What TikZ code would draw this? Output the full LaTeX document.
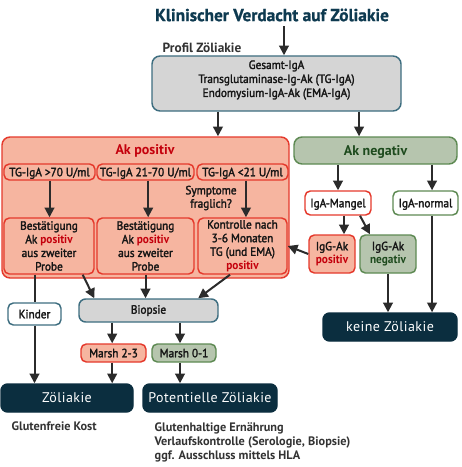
\documentclass[tikz,border=0pt]{standalone}
\usepackage{fontspec}
\setmainfont{PT Sans}[FakeStretch=0.94, UprightFeatures={FakeBold=2.2}]
\newfontfamily\plainpt{PT Sans}
\usetikzlibrary{fit,arrows.meta,calc}
\definecolor{navy}{HTML}{0B2E3F}
\definecolor{titlec}{HTML}{0E3A50}
\definecolor{tealb}{HTML}{3E6E80}
\definecolor{grayfill}{HTML}{D5D5D5}
\definecolor{salmon}{HTML}{F6B5A0}
\definecolor{redb}{HTML}{E5392C}
\definecolor{redt}{HTML}{C4000C}
\definecolor{greenfill}{HTML}{B6C5AE}
\definecolor{greenb}{HTML}{5E8A53}
\definecolor{greent}{HTML}{1D4A1D}
\definecolor{txt}{HTML}{161616}
\definecolor{notec}{HTML}{333333}
\definecolor{arrc}{HTML}{2B2B2B}
\newcommand{\rpos}{\textcolor{redt}{\bfseries positiv}}
\newcommand{\gneg}{\textcolor{greent}{\bfseries negativ}}
% one-line label centred on the box (by cap height)
\newcommand{\bt}[3][3.2pt]{\node[anchor=base, inner sep=0pt] (#2-l) at ([yshift=-#1]#2.center) {#3};}
\tikzset{
 every node/.style={font=\fontsize{9}{10.1}\selectfont, text=txt},
 base/.style={inner sep=0pt, align=center, line width=1.1pt},
 graybox/.style={base, draw=tealb, fill=grayfill, rounded corners=6pt},
 panel/.style={base, draw=redb, fill=salmon, rounded corners=6pt},
 redbox/.style={base, draw=redb, fill=salmon, rounded corners=4pt},
 greenbox/.style={base, draw=greenb, fill=greenfill, rounded corners=4pt},
 whitered/.style={base, draw=redb, fill=white, rounded corners=4pt},
 whitegreen/.style={base, draw=greenb, fill=white, rounded corners=4pt},
 whiteteal/.style={base, draw=tealb, fill=white, rounded corners=4pt},
 navybox/.style={base, fill=navy, draw=navy, rounded corners=5pt},
 arr/.style={draw=arrc, line width=1.5pt, -{Triangle[width=7.3pt,length=7.3pt]}},
 ln/.style={draw=arrc, line width=1.5pt},
 head/.style={font=\plainpt\bfseries\fontsize{10.5}{12}\selectfont},
 notes/.style={font=\plainpt\bfseries\fontsize{9.2}{10.5}\selectfont, text=notec, align=left},
}
\begin{document}
\begin{tikzpicture}[x=0.75pt,y=-0.75pt]
\fill[white] (0,0) rectangle (461,467);
\useasboundingbox (0,0) rectangle (461,467);

\node[font=\plainpt\bfseries\fontsize{13}{15}\selectfont\addfontfeature{FakeBold=1}, text=titlec] (title) at (272,15) {Klinischer Verdacht auf Zöliakie};
\node[anchor=west, font=\plainpt\bfseries\fontsize{10}{12}\selectfont, text=notec] (profil) at (158,48) {Profil Zöliakie};
\node[graybox, fit={(152,56)(401,111)}] (gray) {};
\node[align=center, font=\fontsize{9}{10.5}\selectfont] (graytxt) at (276.5,80) {Gesamt-IgA\\Transglutaminase-Ig-Ak (TG-IgA)\\Endomysium-IgA-Ak (EMA-IgA)};

% positive panel
\node[panel, fit={(2,137)(289,278)}] (pos) {};
\node[head, text=redt] (postitle) at (145,151) {Ak positiv};
\node[redbox, fit={(4,164)(95,180)}] (t1) {};
\node[redbox, fit={(97,164)(194,180)}] (t2) {};
\node[redbox, fit={(197,164)(288,180)}] (t3) {};
\bt{t1}{TG-IgA >70 U/ml}
\bt{t2}{TG-IgA 21-70 U/ml}
\bt{t3}{TG-IgA <21 U/ml}
\node[align=center, font=\fontsize{9}{10}\selectfont] (sympt) at (211,198) {Symptome\\fraglich?};
\node[redbox, fit={(4,218)(94,274)}] (b1) {};
\node[redbox, fit={(97,218)(194,274)}] (b2) {};
\node[redbox, fit={(198,218)(287,274)}] (b3) {};
\node[align=center, font=\fontsize{9}{10.2}\selectfont] (b1-l) at (b1.center) {Bestätigung\\Ak \rpos\\aus zweiter\\Probe};
\node[align=center, font=\fontsize{9}{10.2}\selectfont] (b2-l) at (b2.center) {Bestätigung\\Ak \rpos\\aus zweiter\\Probe};
\node[align=center, font=\fontsize{9}{10.2}\selectfont] (b3-l) at (b3.center) {Kontrolle nach\\3-6 Monaten\\TG (und EMA)\\\rpos};

% negative side
\node[greenbox, rounded corners=6pt, fit={(294,137)(457,164)}] (neg) {};
\bt[3.7pt]{neg}{\plainpt\bfseries\fontsize{10.5}{12}\selectfont\color{greent}Ak negativ}
\node[whitered, fit={(305,191)(371,215)}] (mangel) {};
\bt{mangel}{IgA-Mangel}
\node[whitegreen, fit={(393,191)(458,215)}] (normal) {};
\bt{normal}{IgA-normal}
\node[redbox, fit={(309,235)(355,273)}] (igpos) {};
\node[align=center] (igpos-l) at (igpos.center) {IgG-Ak\\\rpos};
\node[greenbox, fit={(360,235)(416,273)}] (igneg) {};
\node[align=center] (igneg-l) at (igneg.center) {IgG-Ak\\\gneg};
\node[navybox, fit={(323,313)(457,341)}] (keine) {};
\bt[3.7pt]{keine}{\color{white}\plainpt\fontsize{10.5}{12}\selectfont\addfontfeature{LetterSpace=3}keine Zöliakie}

% bottom
\node[whiteteal, fit={(8,303)(61,325)}] (kinder) {};
\bt{kinder}{Kinder}
\node[graybox, rounded corners=5pt, fit={(79,299)(218,322)}] (biopsie) {};
\bt[2.4pt]{biopsie}{Biopsie}
\node[redbox, fit={(81,344)(146,362)}] (m23) {};
\bt{m23}{Marsh 2-3}
\node[greenbox, fit={(152,344)(216,362)}] (m01) {};
\bt{m01}{Marsh 0-1}
\node[navybox, fit={(1,384)(133,412)}] (zoel) {};
\bt[3.7pt]{zoel}{\color{white}\plainpt\fontsize{10.5}{12}\selectfont\addfontfeature{LetterSpace=3}Zöliakie}
\node[navybox, fit={(143,384)(277,412)}] (potz) {};
\bt[3.7pt]{potz}{\color{white}\plainpt\fontsize{10.5}{12}\selectfont\addfontfeature{LetterSpace=3}Potentielle Zöliakie}
\node[notes, anchor=west] (kost) at (7,426) {Glutenfreie Kost};
\node[notes, anchor=north west] (potnotes) at (150,418) {Glutenhaltige Ernährung\\Verlaufskontrolle (Serologie, Biopsie)\\ggf. Ausschluss mittels HLA};

% connectors
\coordinate (c0) at ([xshift=9pt]title.south);
\draw[arr] (c0) -- (c0 |- gray.north);
\coordinate (g1) at ([xshift=-43.9pt]gray.south);
\coordinate (g2) at ([xshift=61.9pt]gray.south);
\draw[arr] (g1) -- (g1 |- pos.north);
\draw[arr] (g2) -- (g2 |- neg.north);

\draw[arr] (t1.south) -- (t1.south |- b1.north);
\coordinate (t2s) at ([xshift=2pt]t2.south);
\draw[arr] (t2s) -- (t2s |- b2.north);
\coordinate (t3s) at ([xshift=2.6pt]t3.south);
\draw[arr] (t3s) -- (t3s |- b3.north);

\coordinate (n1) at (neg.south -| mangel.north);
\draw[arr] (n1) -- (mangel.north);
\coordinate (n2) at ([xshift=4.9pt]normal.north);
\draw[arr] (n2 |- neg.south) -- (n2);
\coordinate (ms) at ([xshift=4.5pt]mangel.south);
\draw[arr] (ms) -- (ms |- igpos.north);
\coordinate (md1) at ([xshift=16.5pt]mangel.south);
\coordinate (md2) at ([xshift=-13.5pt]igneg.north);
\draw[arr] (md1) -- (md2);
\draw[arr] (igneg.south) -- (igneg.south |- keine.north);
\draw[arr] (n2 |- normal.south) -- (n2 |- keine.north);
\draw[arr] (igpos.west) -- (b3.east);

\draw[ln] (kinder.north |- b1.south) -- (kinder.north);
\draw[arr] (kinder.south) -- (kinder.south |- zoel.north);
\coordinate (b1a) at ([xshift=-9pt]b1.south east);
\coordinate (b1b) at ([xshift=12pt]biopsie.north west);
\draw[arr] (b1a) -- (b1b);
\draw[arr] (b2.south) -- (b2.south |- biopsie.north);
\coordinate (b3a) at ([xshift=-9.4pt]b3.south);
\coordinate (b3b) at ([xshift=-15.4pt]biopsie.north east);
\draw[arr] (b3a) -- (b3b);
\coordinate (bm1) at ([xshift=-1pt]m23.north);
\draw[arr] (bm1 |- biopsie.south) -- (bm1);
\coordinate (bm2) at ([xshift=-3pt]m01.north);
\draw[arr] (bm2 |- biopsie.south) -- (bm2);
\draw[arr] (bm1 |- m23.south) -- (bm1 |- zoel.north);
\draw[arr] (bm2 |- m01.south) -- (bm2 |- potz.north);
\end{tikzpicture}
\end{document}
